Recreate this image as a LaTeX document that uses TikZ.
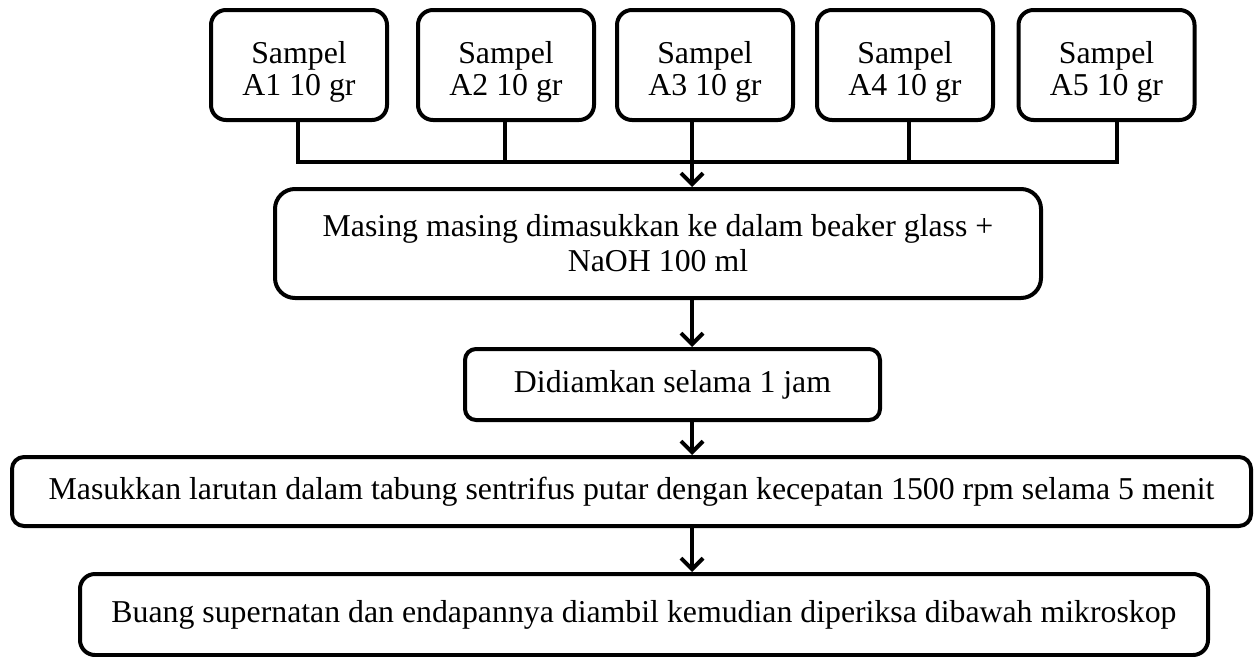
\documentclass[tikz,border=0pt]{standalone}
\usepackage{fontspec}
\setmainfont{Liberation Serif}
\usetikzlibrary{arrows.meta}

\begin{document}
\begin{tikzpicture}[x=1pt, y=-1pt, line width=4pt, line join=round,
  box/.style={draw, rounded corners=15pt, align=center, inner sep=0pt,
    font=\fontsize{31.8}{35}\selectfont},
  sampel/.style={box, minimum width=176pt, minimum height=110pt,
    text height=60pt, text depth=0pt, font=\fontsize{31.8}{32}\selectfont},
  flow/.style={-{Straight Barb[length=11pt, width=22pt]}}]
  \useasboundingbox (0,0) rectangle (1260,656);
  \foreach \i/\x in {1/299, 2/506, 3/705, 4/905, 5/1106.5}
    \node[sampel] (a\i) at (\x,65) {Sampel\\A\i{} 10 gr};
  \node[box, rounded corners=20pt, minimum width=766pt, minimum height=109pt] (masing) at (658,243.5)
    {Masing masing dimasukkan ke dalam beaker glass +\\NaOH 100 ml};
  \node[box, rounded corners=11pt, minimum width=415pt, minimum height=71pt] (diam) at (672.5,384.5)
    {Didiamkan selama 1 jam};
  \node[box, rounded corners=12pt, minimum width=1239pt, minimum height=69pt] (sentri) at (631.5,491.5)
    {Masukkan larutan dalam tabung sentrifus putar dengan kecepatan 1500 rpm selama 5 menit};
  \node[box, minimum width=1128pt, minimum height=81pt] (buang) at (644,614.5)
    {Buang supernatan dan endapannya diambil kemudian diperiksa dibawah mikroskop};
  \coordinate (spine) at ([xshift=-13pt]a3.south);
  % bar under the samples
  \draw[line join=miter] ([xshift=-1pt]a1.south) -- ++(0,40) -| ([xshift=10.5pt]a5.south);
  \draw ([xshift=-1pt]a2.south) -- ++(0,40);
  \draw ([xshift=4pt]a4.south) -- ++(0,40);
  \draw[flow] (spine) -- (spine |- masing.north);
  \draw[flow] (masing.south -| spine) -- (diam.north -| spine);
  \draw[flow] (diam.south -| spine) -- (sentri.north -| spine);
  \draw[flow] (sentri.south -| spine) -- (buang.north -| spine);
\end{tikzpicture}
\end{document}
